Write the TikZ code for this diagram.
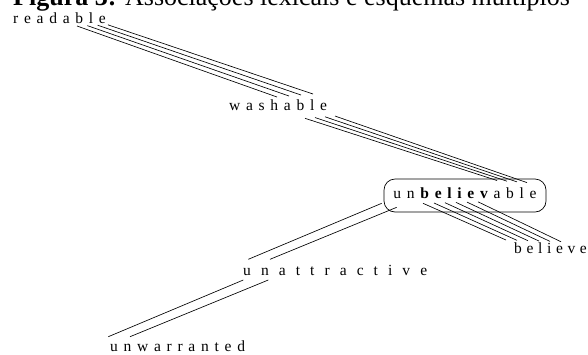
\documentclass[tikz,border=0pt]{standalone}
\usepackage{fontspec}
\setmainfont{Liberation Serif}
\newfontfamily\wordfont[LetterSpace=37]{Liberation Serif}
\newfontfamily\tightfont[LetterSpace=30]{Liberation Serif}
\newfontfamily\widefont[LetterSpace=65]{Liberation Serif}
\tikzset{
    word/.style = {anchor=base west, inner sep=0pt, font=\wordfont\fontsize{15.5}{18}\selectfont},
    tightword/.style = {word, font=\tightfont\fontsize{15.5}{18}\selectfont},
    wideword/.style = {word, font=\widefont\fontsize{15.5}{18}\selectfont},
    wordbox/.style = {draw=black, line width=0.7pt, rounded corners=11pt, minimum width=162pt, minimum height=33pt, inner sep=0pt, text height=9.5pt, text depth=3.5pt, font=\wordfont\fontsize{15.5}{18}\selectfont},
    caption/.style = {anchor=base west, inner sep=0pt, font=\fontsize{26}{30}\selectfont},
    link/.style = {-, line width=0.65pt, black}
}

\begin{document}
\begin{tikzpicture}[x=1pt,y=-1pt]
\clip (0,0) rectangle (588,354);
\node[caption] at ( 13,  5.5) (cap) {\textbf{Figura 3:} Associações lexicais e esquemas múltiplos};

\node[word] at ( 13, 23.0) (readable) {readable};
\node[word] at (229,110.0) (washable) {washable};
\node[wordbox] at (465,195.5) (unbelievable) {un\textbf{believ}able};
\node[tightword] at (514,253.0) (believe) {believe};
\node[wideword] at (243,275.7) (unattractive) {unattractive};
\node[word] at (110,351.7) (unwarranted) {unwarranted};

% -able
\foreach \i in {0,...,3}
  \draw[link] ([shift={(64+10.3*\i,3.0-0.4*\i)}]readable.base west) -- ([shift={(48+12*\i,-13-\i)}]washable.base west);
\foreach \i in {0,...,3}
  \draw[link] ([shift={(76+10*\i,8.3-0.75*\i)}]washable.base west) -- ([shift={(32+10*\i,-15+0.7*\i)}]unbelievable.center);
% believ-
\foreach \i in {0,...,5}
  \draw[link] ([shift={(-42+11*\i,7.8-0.3*\i)}]unbelievable.center) -- ([shift={(-8+11*\i,-13+0.35*\i)}]believe.base west);
% un-
\draw[link] ([shift={(5.3,-16.4)}]unattractive.base west) -- ([shift={(-83.3,7.8)}]unbelievable.center);
\draw[link] ([shift={(27,-16.4)}]unattractive.base west) -- ([shift={(-68.3,11.8)}]unbelievable.center);
\draw[link] ([shift={(-1.7,-15)}]unwarranted.base west) -- ([shift={(0.3,4.3)}]unattractive.base west);
\draw[link] ([shift={(20,-15)}]unwarranted.base west) -- ([shift={(25.3,4.3)}]unattractive.base west);

\end{tikzpicture}
\end{document}
